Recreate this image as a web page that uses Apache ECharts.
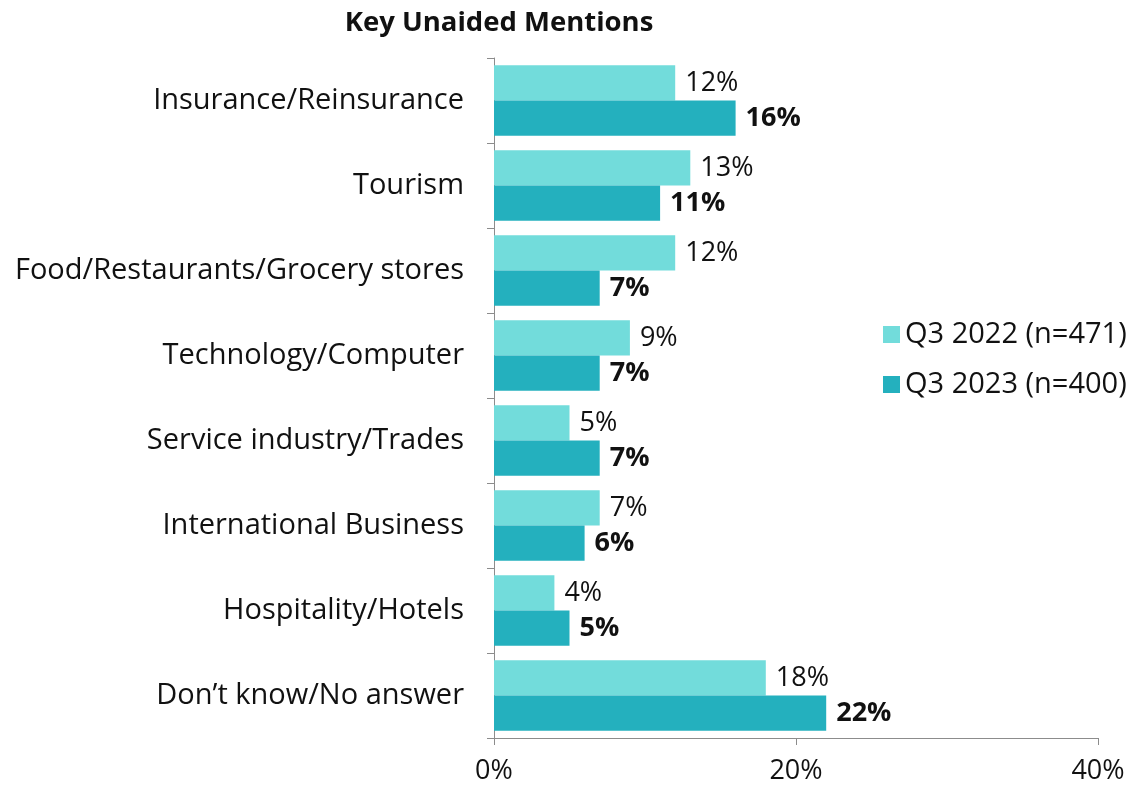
<!DOCTYPE html>
<html><head><meta charset="utf-8">
<script src="https://cdn.jsdelivr.net/npm/echarts@6/dist/echarts.min.js"></script>
<style>html,body{margin:0;padding:0;background:#fff}#c{width:1135px;height:786px}</style>
</head><body><div id="c"></div>
<script>
const categories = ["Insurance/Reinsurance","Tourism","Food/Restaurants/Grocery stores","Technology/Computer","Service industry/Trades","International Business","Hospitality/Hotels","Don\u2019t know/No answer"];
const q3_2022 = [12,13,12,9,5,7,4,18];
const q3_2023 = [16,11,7,7,7,6,5,22];
const xTicks = [0,20,40];
const FONT = "'Open Sans', sans-serif";
const FS = 27;
const chart = echarts.init(document.getElementById('c'));
chart.setOption({
  animation:false,
  title:{text:"Key Unaided Mentions",left:494,top:4,textAlign:'center',
    textStyle:{fontFamily:FONT,fontWeight:'bold',fontSize:27.5,color:'#111'}},
  legend:{orient:'vertical',left:878,top:315,itemWidth:17,itemHeight:17,itemGap:21,
    icon:'rect',textStyle:{fontFamily:FONT,fontSize:29,color:'#111'},
    data:["Q3 2022 (n=471)","Q3 2023 (n=400)"]},
  grid:{left:494,right:37,top:58,bottom:48,containLabel:false},
  xAxis:{type:'value',min:0,max:40,interval:20,
    axisLine:{show:true,lineStyle:{color:'#8c8c8c',width:1}},
    axisTick:{show:true,length:7,lineStyle:{color:'#8c8c8c'}},
    splitLine:{show:false},
    axisLabel:{formatter:v=>xTicks.includes(v)?v+'%':'',fontFamily:FONT,fontSize:FS,color:'#111',margin:20}},
  yAxis:{type:'category',inverse:true,data:categories,
    axisLine:{show:true,lineStyle:{color:'#8c8c8c'}},
    axisTick:{show:true,length:7,lineStyle:{color:'#8c8c8c'}},
    axisLabel:{fontFamily:FONT,fontSize:29,color:'#111',margin:30,padding:[4,0,0,0]}},
  series:[
    {name:"Q3 2022 (n=471)",type:'bar',data:q3_2022,barGap:'0%',barCategoryGap:'17%',
     itemStyle:{color:'#72DCDB'},
     label:{show:true,position:'right',distance:10,formatter:'{c}%',fontFamily:FONT,fontSize:FS,color:'#111'}},
    {name:"Q3 2023 (n=400)",type:'bar',data:q3_2023,barGap:'0%',barCategoryGap:'17%',
     itemStyle:{color:'#24B0BE'},
     label:{show:true,position:'right',distance:10,formatter:'{c}%',fontFamily:FONT,fontSize:FS,fontWeight:'bold',color:'#111'}}
  ]
});
</script></body></html>
